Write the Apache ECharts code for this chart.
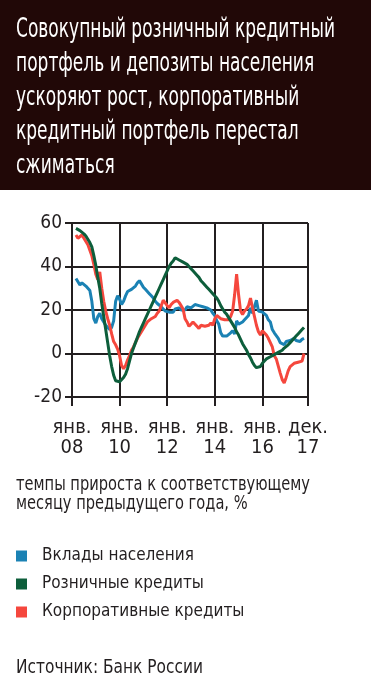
<!DOCTYPE html>
<html>
<head>
<meta charset="utf-8">
<script src="https://cdn.jsdelivr.net/npm/echarts@6/dist/echarts.min.js"></script>
<style>
html,body{margin:0;padding:0;background:#fff;}
#c{width:371px;height:687px;}
</style>
</head>
<body>
<div id="c"></div>
<script>
// Monthly data, March 2008 (index 2) .. October 2017 (index 117)
var START_INDEX = 2;
var deposits = [
  34.5,33,31.5,32.5,32.5,31,30.5,29,24,16,
  14,17,18.5,16,14.5,13,12.5,11,12,15,
  24,26.5,25,22.5,24,26.5,28.5,28.5,29.5,30,
  31,32.5,33.5,32,30.5,29.5,29,27.5,26.5,25.5,
  24,23,22.5,21.5,20.5,19.5,19.5,19,18.5,19,
  20.5,21,21,20,20.5,20,21.5,21,21,21.5,
  22.5,23,22,22.5,21.5,22,21,20.5,20,18.5,
  17.5,15,13.5,9.5,8,7.5,8,8.5,9.5,10.5,
  9,15,13.5,14,14.5,15.5,16,17.5,21,18.5,
  19,24.5,19.5,19.5,19,18.5,17.5,15.5,14.5,11,
  9.5,10,7,5,4.5,4,5.5,5.5,6,6.5,
  7,6,5.5,5.5,6.5,7
];
var retail = [
  57.5,57,56.5,56,55,54,52.5,51,49,45,
  40.5,35,30,23,17,11,5,-1,-6,-10,
  -12.5,-13,-13,-12.5,-11,-9.5,-7,-3.5,0,2.5,
  5,7.5,10,12,14,16,18,20,22,24,
  26,28,30,32,34,36,38,40,41.5,42.5,
  44,43.5,43,43,42,41.5,41,40,39,38,
  37,36,35,33.5,32.5,31.5,30.5,29.5,28.5,27.5,
  27,25.5,24,22,20.5,19,18,16.5,15,13.5,
  12,10,8.5,6.5,4.5,3,1.5,-0.5,-2,-4,
  -5.5,-6.5,-6.5,-6,-4.5,-3.5,-2.5,-2,-1.5,-1,
  -0.5,0,0.5,1,1.5,2.5,3.3,4,5,6,
  7,8,9,10,11,12
];
var corporate = [
  54.5,53,53.5,54.5,53,51.5,50,47.5,45,41,
  36.5,34,37.5,30,24,19.5,16,13,9,5.5,
  4,2,-1,-5.5,-7,-5.5,-3,-1,1.5,3,
  5,7,8.5,10,11.5,13,14.5,15,16,15.5,
  17,18.5,19.5,22,24.5,25,22,21,22.5,23.5,
  23.5,24.5,23.5,22,20.5,16,14.5,12.5,13.5,14.5,
  14,12.5,11.5,13,12.5,12.5,12.5,13,14,13,
  16,17.5,17,16,15.5,15.5,16,15.5,17,19.5,
  27,36.5,27,19.5,18,19.5,20.5,22,25.5,21,
  17,13,10,8.5,10.5,11,8.5,7,5,3,
  -1,-2.5,-3,-9,-12,-13.5,-11,-8,-6,-5.5,
  -4.5,-5,-4,-4.5,-3.5,0
];
var seriesNames = ['Вклады населения', 'Розничные кредиты', 'Корпоративные кредиты'];
var tickIndex = [0, 24, 48, 72, 96, 119];
var tickText = ['янв.\n08', 'янв.\n10', 'янв.\n12', 'янв.\n14', 'янв.\n16', 'дек.\n17'];
var yTicks = { min: -20, max: 60, interval: 20 };

var titleLines = ['Совокупный розничный кредитный', 'портфель и депозиты населения', 'ускоряют рост, корпоративный', 'кредитный портфель перестал', 'сжиматься'];
var noteLines = ['темпы прироста к соответствующему', 'месяцу предыдущего года, %'];
var sourceText = 'Источник: Банк России';

var categories = [];
for (var y = 2008; y <= 2017; y++) {
  for (var mo = 1; mo <= 12; mo++) categories.push(y + '-' + (mo < 10 ? '0' : '') + mo);
}
function pad(arr) {
  var out = [];
  for (var i = 0; i < categories.length; i++) {
    var k = i - START_INDEX;
    out.push(k >= 0 && k < arr.length ? arr[k] : null);
  }
  return out;
}
function isTick(i) { return tickIndex.indexOf(i) >= 0; }

var FONT = "'DejaVu Sans Condensed','DejaVu Sans',sans-serif";
var INK = '#231f20';
var COLORS = { dep: '#1b82b4', ret: '#0d5e3b', corp: '#f5473d' };

// horizontal squeeze so the condensed text matches the reference widths
var mctx = document.createElement('canvas').getContext('2d');
function squeeze(text, size, target, dflt) {
  mctx.font = size + 'px ' + FONT;
  var s = target / mctx.measureText(text).width;
  return (s > 0.5 && s < 1.3) ? s : dflt;
}
var TITLE_SIZE = 27, NOTE_SIZE = 19;
var titleScale = squeeze(titleLines[0], TITLE_SIZE, 319, 0.85);
var noteScale = squeeze(noteLines[0], NOTE_SIZE, 294, 0.86);
var sourceScale = squeeze(sourceText, NOTE_SIZE, 187, 0.9);

var cs = [COLORS.dep, COLORS.corp, COLORS.ret];
var chart = echarts.init(document.getElementById('c'), null, { renderer: 'canvas' });
chart.setOption({
  animation: false,
  graphic: [{
    type: 'rect', x: 0, y: 0, silent: true,
    shape: { x: 0, y: 0, width: 371, height: 190 },
    style: { fill: '#210807' }
  }, {
    type: 'text', x: 16, y: 13, scaleX: titleScale, silent: true,
    style: { text: titleLines.join('\n'), fill: '#ffffff', fontFamily: FONT, fontSize: TITLE_SIZE, lineHeight: 34, verticalAlign: 'top' }
  }, {
    type: 'text', x: 16, y: 476, scaleX: noteScale, silent: true,
    style: { text: noteLines.join('\n'), fill: INK, fontFamily: FONT, fontSize: NOTE_SIZE, lineHeight: 19, verticalAlign: 'top' }
  }, {
    type: 'text', x: 16, y: 658, scaleX: sourceScale, silent: true,
    style: { text: sourceText, fill: INK, fontFamily: FONT, fontSize: NOTE_SIZE, lineHeight: 20, verticalAlign: 'top' }
  }],
  legend: {
    orient: 'vertical', left: 16, top: 546, padding: 0,
    itemWidth: 11, itemHeight: 11, itemGap: 8, icon: 'rect', selectedMode: false,
    textStyle: { color: INK, fontFamily: FONT, fontSize: 17, lineHeight: 20, padding: [0, 0, 0, 10] },
    data: seriesNames
  },
  grid: { left: 72, top: 223, width: 236, height: 174 },
  xAxis: {
    type: 'category', data: categories, boundaryGap: false,
    axisLine: { show: true, onZero: false, lineStyle: { color: INK, width: 2 } },
    axisTick: { show: true, interval: isTick, length: 9, lineStyle: { color: INK, width: 2 } },
    splitLine: { show: true, interval: isTick, lineStyle: { color: INK, width: 2 } },
    axisLabel: {
      interval: isTick,
      formatter: function (v, i) { var k = tickIndex.indexOf(i); return k >= 0 ? tickText[k] : ''; },
      color: INK, fontFamily: FONT, fontSize: 20, lineHeight: 20, margin: 21
    }
  },
  yAxis: {
    type: 'value', min: yTicks.min, max: yTicks.max, interval: yTicks.interval,
    axisLine: { show: true, lineStyle: { color: INK, width: 2 } },
    axisTick: { show: true, length: 7, lineStyle: { color: INK, width: 2 } },
    splitLine: { show: true, lineStyle: { color: INK, width: 2 } },
    axisLabel: { color: INK, fontFamily: FONT, fontSize: 19, margin: 10 }
  },
  series: [
    { name: seriesNames[0], type: 'line', data: pad(deposits), showSymbol: false, itemStyle: { color: cs[0] }, lineStyle: { width: 3, color: cs[0] } },
    { name: seriesNames[2], type: 'line', data: pad(corporate), showSymbol: false, itemStyle: { color: cs[1] }, lineStyle: { width: 3, color: cs[1] } },
    { name: seriesNames[1], type: 'line', data: pad(retail), showSymbol: false, itemStyle: { color: cs[2] }, lineStyle: { width: 3, color: cs[2] } }
  ]
});
</script>
</body>
</html>
